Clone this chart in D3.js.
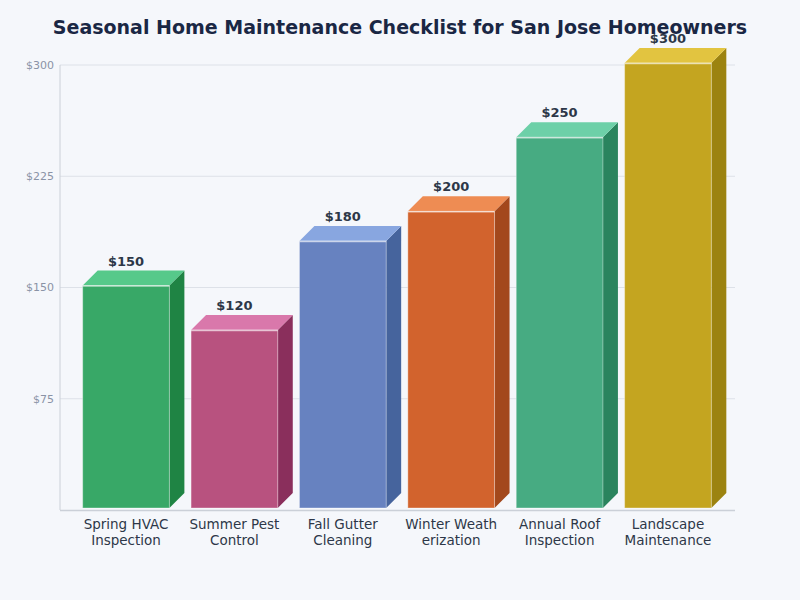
<!DOCTYPE html>
<html><head><meta charset="utf-8">
<script src="https://cdn.jsdelivr.net/npm/d3@7/dist/d3.min.js"></script>
<style>body{margin:0;background:#f5f7fb;}svg{display:block;font-family:"DejaVu Sans",sans-serif;}</style>
</head><body><svg id="c" width="800" height="600"></svg>
<script>
const categories = [["Spring HVAC","Inspection"],["Summer Pest","Control"],["Fall Gutter","Cleaning"],["Winter Weath","erization"],["Annual Roof","Inspection"],["Landscape","Maintenance"]];
const values = [150,120,180,200,250,300];
const frontColors = ["#38a867","#b8527f","#6782c0","#d2632d","#47ab82","#c4a520"];
const topColors = ["#56c98a","#d978ab","#88a6e0","#ee8c53","#6dd0a8","#e2c440"];
const sideColors = ["#1f8444","#8a2f5c","#46649d","#a3481c","#2a845e","#9c8310"];
const yTicks = [75,150,225,300];

const svg = d3.select("#c");
svg.append("rect").attr("width",800).attr("height",600).attr("fill","#f5f7fb");
const x0=60,x1=735,yTop=65,yBase=510,depth=15,lift=2;
const x = d3.scaleBand().domain(d3.range(values.length)).range([61,733]).paddingInner(0.2).paddingOuter(0.2);
const y = d3.scaleLinear().domain([0,300]).range([yBase,yTop]);

svg.append("text").attr("x",400).attr("y",34).attr("text-anchor","middle")
  .attr("font-size",19).attr("font-weight","bold").attr("fill","#1a2744")
  .text("Seasonal Home Maintenance Checklist for San Jose Homeowners");

// grid
const grid = svg.append("g");
grid.selectAll("line").data(yTicks).join("line")
  .attr("x1",x0).attr("x2",x1).attr("y1",d=>y(d)).attr("y2",d=>y(d))
  .attr("stroke","#dde1e8").attr("stroke-width",1);
grid.selectAll("text").data(yTicks).join("text")
  .attr("x",x0-6).attr("y",d=>y(d)).attr("dy","0.35em").attr("text-anchor","end")
  .attr("font-size",11).attr("fill","#8a93a6").text(d=>"$"+d);
svg.append("line").attr("x1",x0).attr("x2",x0).attr("y1",yTop).attr("y2",yBase).attr("stroke","#cbd0d8");
svg.append("line").attr("x1",x0).attr("x2",x1).attr("y1",yBase+0.5).attr("y2",yBase+0.5).attr("stroke","#cbd0d8").attr("stroke-width",1.5);

const bw = x.bandwidth();
const g = svg.append("g");
values.forEach((v,i)=>{
  const L = x(i), R = L+bw, T = y(v)-lift, B = yBase-lift;
  const bg = g.append("g");
  bg.append("polygon").attr("points",[[R,T],[R+depth,T-depth],[R+depth,B-depth],[R,B]].join(" ")).attr("fill",sideColors[i]);
  bg.append("polygon").attr("points",[[L,T],[L+depth,T-depth],[R+depth,T-depth],[R,T]].join(" ")).attr("fill",topColors[i]);
  bg.append("rect").attr("x",L).attr("y",T).attr("width",bw).attr("height",B-T).attr("fill",frontColors[i])
    .attr("stroke","rgba(255,255,255,0.35)").attr("stroke-width",1);
  bg.append("line").attr("x1",L).attr("x2",R).attr("y1",T+0.5).attr("y2",T+0.5).attr("stroke","rgba(255,255,255,0.6)").attr("stroke-width",1.5);
  g.append("text").attr("x",L+bw/2).attr("y",T-depth-5).attr("text-anchor","middle")
    .attr("font-size",13).attr("font-weight","bold").attr("fill","#2d3748").text("$"+v);
  const t = g.append("text").attr("x",L+bw/2).attr("y",529).attr("text-anchor","middle").attr("font-size",13.5).attr("fill","#2d3748");
  categories[i].forEach((line,k)=>t.append("tspan").attr("x",L+bw/2).attr("dy",k?16:0).text(line));
});
</script></body></html>
